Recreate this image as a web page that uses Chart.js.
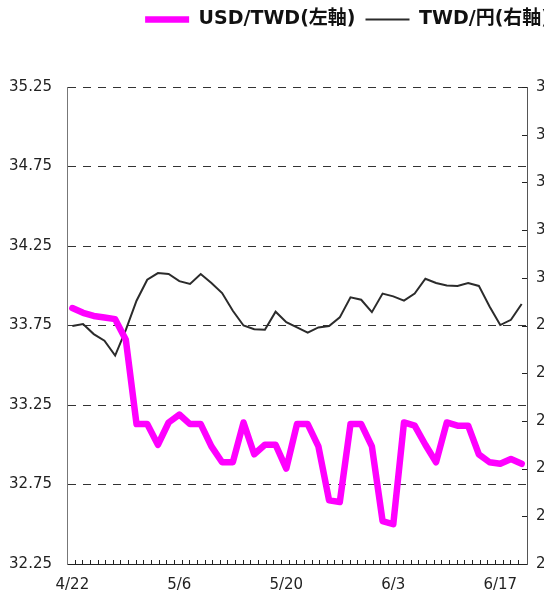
<!DOCTYPE html>
<html lang="ja">
<head>
<meta charset="UTF-8">
<title>USD/TWD と TWD/円</title>
<style>
  body { margin: 0; background: #fff; }
  .frame { width: 544px; height: 595px; overflow: hidden; }
  .box { position: relative; width: 570px; height: 595px; }
</style>
</head>
<body>
<div class="frame"><div class="box"><canvas id="myChart"></canvas></div></div>
<script src="https://cdn.jsdelivr.net/npm/chart.js@4/dist/chart.umd.min.js"></script>
<script>
// trading days, 4/22 - 6/19
const dates = ['4/22','4/23','4/24','4/27','4/28','4/29','4/30','5/1',
  '5/4','5/5','5/6','5/7','5/8','5/11','5/12','5/13','5/14','5/15',
  '5/18','5/19','5/20','5/21','5/22','5/25','5/26','5/27','5/28','5/29',
  '6/1','6/2','6/3','6/4','6/5','6/8','6/9','6/10','6/11','6/12',
  '6/15','6/16','6/17','6/18','6/19'];
const tickDates = ['4/22','5/6','5/20','6/3','6/17'];

const usdTwd = [33.86, 33.83, 33.81, 33.80, 33.79, 33.66, 33.13, 33.13, 33.00, 33.14,
  33.19, 33.13, 33.13, 32.99, 32.89, 32.89, 33.14, 32.94, 33.00, 33.00,
  32.85, 33.13, 33.13, 32.99, 32.65, 32.64, 33.13, 33.13, 32.99, 32.52,
  32.50, 33.14, 33.12, 33.00, 32.89, 33.14, 33.12, 33.12, 32.94, 32.89,
  32.88, 32.91, 32.88];
const twdJpy = [2.899, 2.903, 2.882, 2.868, 2.837, 2.891, 2.952, 2.996, 3.010, 3.008,
  2.993, 2.987, 3.008, 2.989, 2.968, 2.931, 2.900, 2.892, 2.891, 2.929,
  2.907, 2.896, 2.885, 2.896, 2.899, 2.917, 2.959, 2.954, 2.928, 2.967,
  2.961, 2.952, 2.967, 2.998, 2.989, 2.984, 2.983, 2.989, 2.983, 2.940,
  2.901, 2.912, 2.945];

const tickFont = { family: "'DejaVu Sans', 'Noto Sans CJK JP'", size: 15 };

// room under the legend
const legendGap = {
  id: 'legendGap',
  beforeInit(chart) {
    const fit = chart.legend.fit;
    chart.legend.fit = function () {
      fit.bind(chart.legend)();
      this.height += 48;
    };
  }
};

// small inward tick marks: one per calendar day on the bottom, right axis steps on the right
const innerTicks = {
  id: 'innerTicks',
  afterDraw(chart) {
    const ctx = chart.ctx, area = chart.chartArea;
    const x = chart.scales.x, y1 = chart.scales.y1;
    const day = (x.getPixelForValue(40) - x.getPixelForValue(0)) / 56;
    ctx.save();
    ctx.strokeStyle = '#222';
    ctx.lineWidth = 1;
    ctx.beginPath();
    for (let px = area.left + day; px < area.right - 3; px += day) {
      const p = Math.round(px) + 0.5;
      ctx.moveTo(p, area.bottom);
      ctx.lineTo(p, area.bottom - 4);
    }
    y1.ticks.forEach(t => {
      const py = Math.round(y1.getPixelForValue(t.value)) + 0.5;
      ctx.moveTo(area.right, py);
      ctx.lineTo(area.right - 5, py);
    });
    ctx.stroke();
    ctx.restore();
  }
};

const ctx = document.getElementById('myChart').getContext('2d');
const myChart = new Chart(ctx, {
  type: 'line',
  data: {
    labels: dates,
    datasets: [{
      label: 'USD/TWD(左軸)',
      data: usdTwd,
      yAxisID: 'y',
      borderColor: '#ff00ff',
      backgroundColor: '#ff00ff',
      borderWidth: 6.5,
      borderJoinStyle: 'round',
      borderCapStyle: 'round',
      pointRadius: 0,
      tension: 0
    }, {
      label: 'TWD/円(右軸)',
      data: twdJpy,
      yAxisID: 'y1',
      borderColor: '#2b2b2b',
      backgroundColor: '#2b2b2b',
      borderWidth: 2,
      pointRadius: 0,
      tension: 0
    }]
  },
  options: {
    responsive: true,
    maintainAspectRatio: false,
    animation: false,
    layout: { padding: { left: 8, right: 10, top: 0, bottom: 2 } },
    plugins: {
      tooltip: { enabled: false },
      legend: {
        align: 'end',
        labels: {
          usePointStyle: true,
          pointStyle: 'line',
          pointStyleWidth: 44,
          color: '#111',
          padding: 10,
          font: { family: "'DejaVu Sans', 'Noto Sans CJK JP'", size: 19, weight: 'bold' }
        }
      }
    },
    scales: {
      x: {
        offset: true,
        grid: { display: false, drawTicks: false },
        border: { display: true, color: '#222', width: 1 },
        afterFit: s => { s.paddingLeft = 0; s.paddingRight = 0; s.height = 29; },
        ticks: {
          autoSkip: false,
          maxRotation: 0,
          padding: 12,
          color: '#222',
          font: tickFont,
          callback: function (v, i) {
            const d = dates[i];
            return tickDates.includes(d) ? d : '';
          }
        }
      },
      y: {
        position: 'left',
        min: 32.25,
        max: 35.25,
        grid: { color: '#333', lineWidth: 1, drawTicks: false },
        border: { display: true, color: '#777', width: 1, dash: [8, 7] },
        afterFit: s => { s.width = 59; },
        ticks: {
          stepSize: 0.5,
          padding: 15,
          color: '#222',
          font: tickFont,
          callback: v => v.toFixed(2)
        }
      },
      y1: {
        position: 'right',
        min: 2.4,
        max: 3.4,
        grid: { display: false, drawTicks: false },
        border: { display: true, color: '#555', width: 1 },
        afterFit: s => { s.width = 33; },
        ticks: {
          stepSize: 0.1,
          padding: 9,
          color: '#222',
          font: tickFont,
          callback: v => v.toFixed(1)
        }
      }
    }
  },
  plugins: [legendGap, innerTicks]
});
</script>
</body>
</html>
